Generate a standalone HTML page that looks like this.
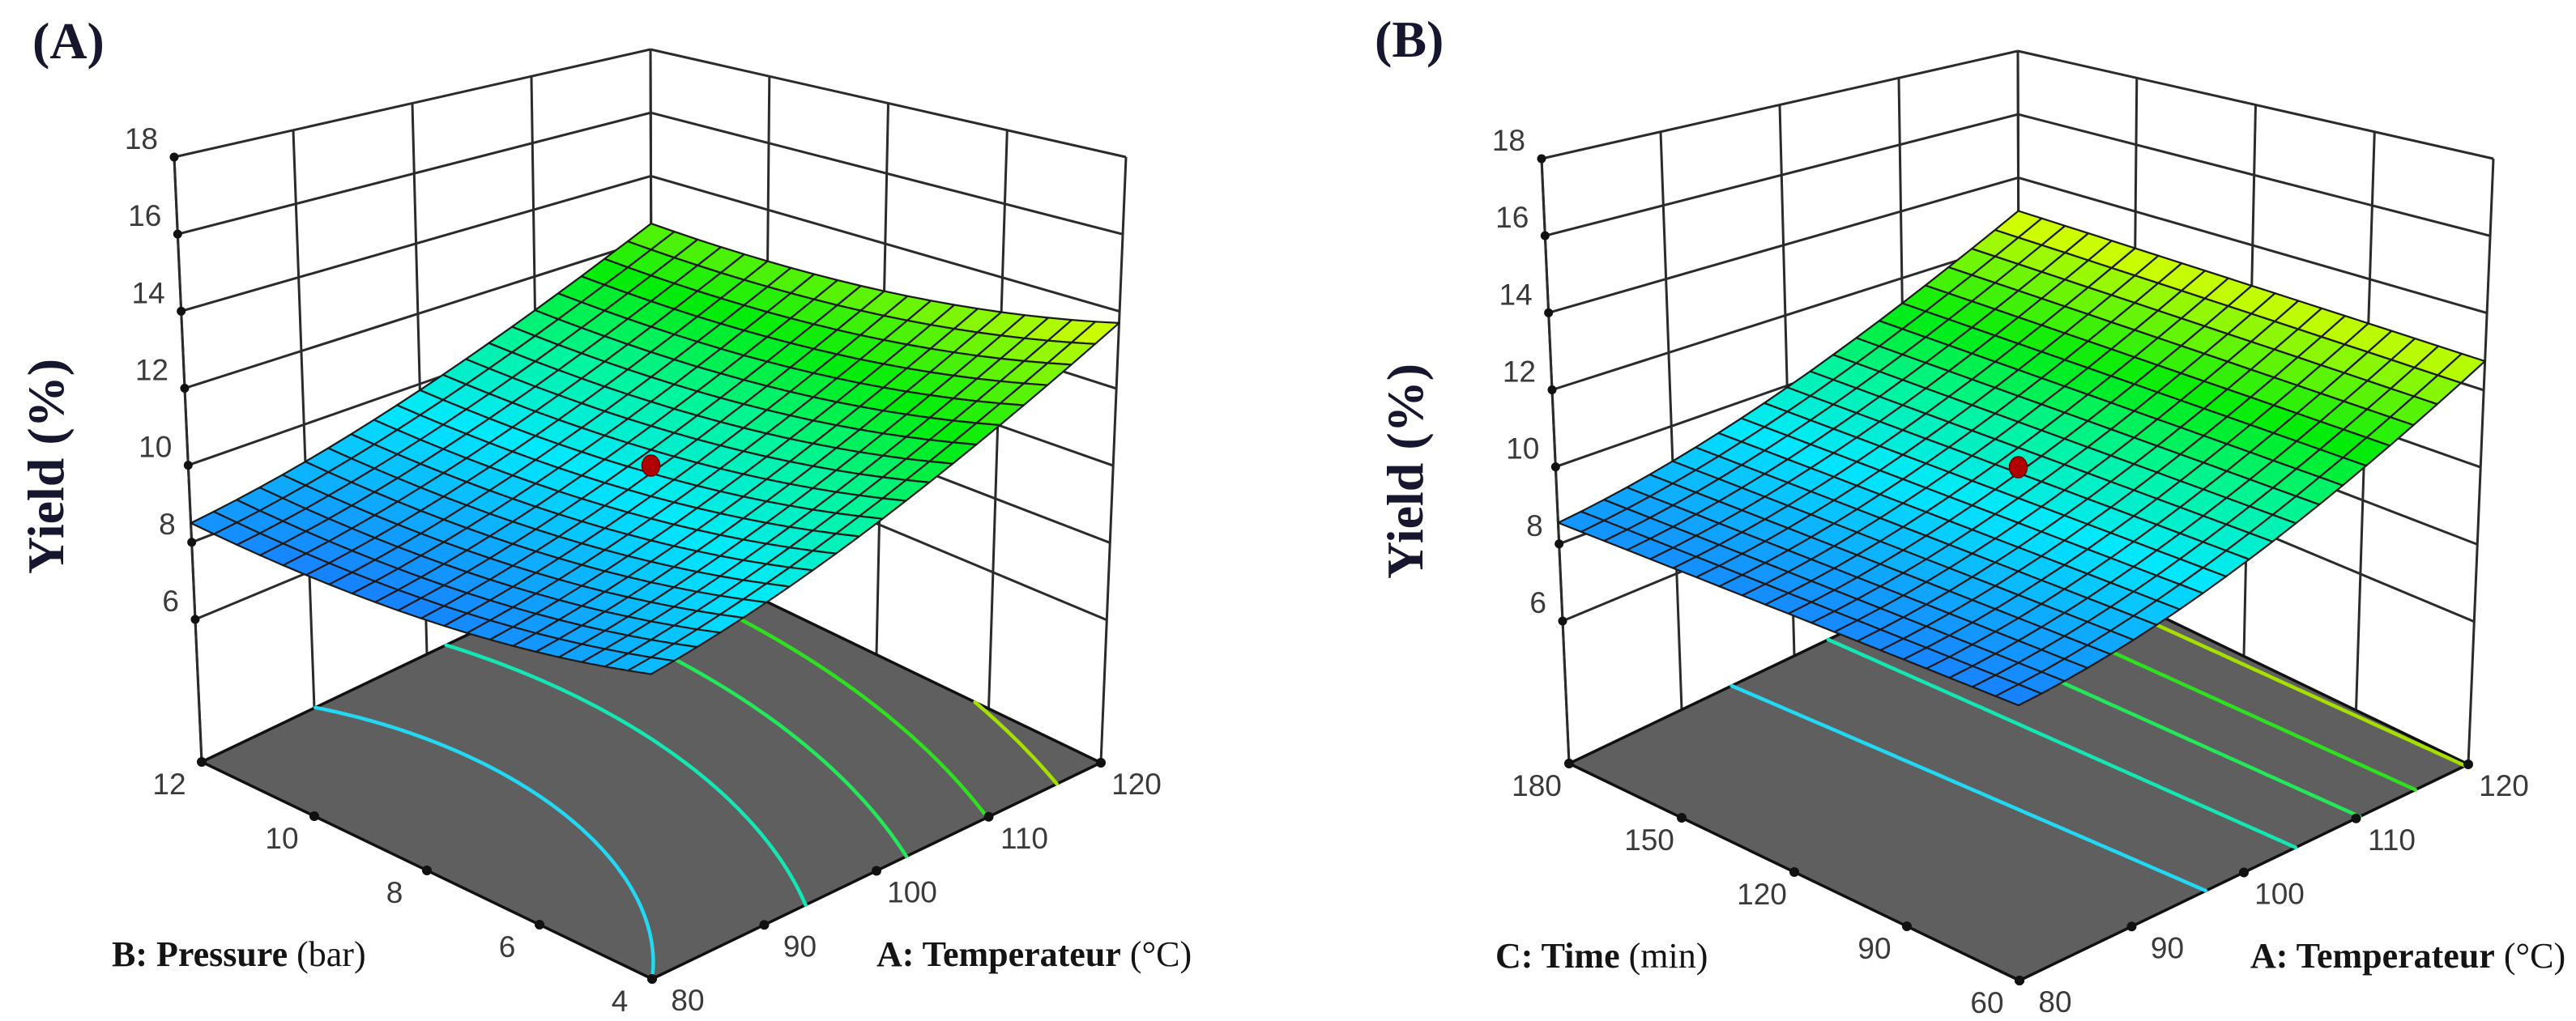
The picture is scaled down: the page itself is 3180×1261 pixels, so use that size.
<!DOCTYPE html>
<html><head><meta charset="utf-8"><style>
html,body{margin:0;padding:0;background:#fff;}
svg{display:block;}
.tick{font-family:"Liberation Sans",sans-serif;font-size:37px;fill:#3a3a3a;}
.ttl{font-family:"Liberation Serif",serif;font-size:44px;fill:#141414;}
.big{font-family:"Liberation Serif",serif;font-weight:bold;fill:#16162e;}
</style></head><body>
<svg id="fig" width="3180" height="1261" viewBox="0 0 3180 1261" xmlns="http://www.w3.org/2000/svg">
<text class="big" x="40" y="72" font-size="64">(A)</text>
<text class="big" x="1697" y="70" font-size="64">(B)</text>
<text class="big" font-size="64" transform="translate(78,576) rotate(-90)" text-anchor="middle">Yield (%)</text>
<text class="big" font-size="64" transform="translate(1756,582) rotate(-90)" text-anchor="middle">Yield (%)</text>
<text class="ttl" x="138" y="1193"><tspan font-weight="bold">B: Pressure</tspan> (bar)</text>
<text class="ttl" x="1082" y="1193"><tspan font-weight="bold">A: Temperateur</tspan> (°C)</text>
<text class="ttl" x="1846" y="1195"><tspan font-weight="bold">C: Time</tspan> (min)</text>
<text class="ttl" x="2778" y="1195"><tspan font-weight="bold">A: Temperateur</tspan> (°C)</text>
</svg>
<script>
const zTicks=[6,8,10,12,14,16,18];
const tempTicks=[80,90,100,110,120];
const pressureTicks=[4,6,8,10,12];
const timeTicks=[60,90,120,150,180];
// response-surface coefficients: [b0, a, b, ab, a^2, b^2] (coded units)
const coefA=[9.8,2.175,-0.425,-0.175,0.675,0.45];
const coefB=[9.85,2.2,0.1,0.0,0.8,0.0];
const levelsA=[9,10,11,12,13];
const levelsB=[9.4,10.3,11.1,11.9,12.7];
const contourColors=['#22d8f2','#14e6b4','#22e85a','#2ee020','#a6e000'];
const centerYield=[10.0,10.0];

const NS='http://www.w3.org/2000/svg';
const svg=document.getElementById('fig');
function mk(tag,attrs,parent){const e=document.createElementNS(NS,tag);for(const k in attrs)e.setAttribute(k,attrs[k]);(parent||svg).appendChild(e);return e;}
const zFloor=2.3,zTop=18;
function bil(c,u,v,k){return c[0][k]*(1-u)*(1-v)+c[1][k]*u*(1-v)+c[2][k]*(1-u)*v+c[3][k]*u*v;}
function makeProj(dx,dy){
  const F=[[805,1209],[1359,942],[249,941],[805,675]];
  const T=[[802,327],[1390,194],[215,194],[803,61]];
  return function(u,v,z){const w=(z-zFloor)/(zTop-zFloor);
    const fx=bil(F,u,v,0),fy=bil(F,u,v,1),tx=bil(T,u,v,0),ty=bil(T,u,v,1);
    return [fx+w*(tx-fx)+dx,fy+w*(ty-fy)+dy];};
}
const stops=[[0,[24,128,255]],[0.24,[0,232,255]],[0.42,[0,245,160]],[0.62,[0,236,10]],[1,[232,255,0]]];
function cmap(t){t=Math.max(0,Math.min(1,t));for(let i=1;i<stops.length;i++){if(t<=stops[i][0]){const a=stops[i-1],b=stops[i],f=(t-a[0])/(b[0]-a[0]);const c=a[1].map((x,k)=>Math.round(x+f*(b[1][k]-x)));return 'rgb('+c.join(',')+')';}}return 'rgb(232,255,0)';}
function line(g,p,q,w,col){return mk('line',{x1:p[0].toFixed(1),y1:p[1].toFixed(1),x2:q[0].toFixed(1),y2:q[1].toFixed(1),stroke:col||'#2b2b2b','stroke-width':w||3},g);}

function panel(id,dx,dy,coef,levels,vTicks,center){
  const P=makeProj(dx,dy);
  const model=(u,v)=>{const a=2*u-1,b=2*v-1;return coef[0]+coef[1]*a+coef[2]*b+coef[3]*a*b+coef[4]*a*a+coef[5]*b*b;};
  const uOf=t=>(t-tempTicks[0])/(tempTicks[tempTicks.length-1]-tempTicks[0]);
  const vOf=t=>(t-vTicks[0])/(vTicks[vTicks.length-1]-vTicks[0]);
  const g=mk('g',{});
  
  
  const walls=mk('g',{},g);
  
  
  tempTicks.forEach(t=>{const u=uOf(t);line(walls,P(u,1,zFloor),P(u,1,zTop));});
  vTicks.forEach(t=>{const v=vOf(t);line(walls,P(1,v,zFloor),P(1,v,zTop));});
  zTicks.forEach(z=>{line(walls,P(0,1,z),P(1,1,z));line(walls,P(1,1,z),P(1,0,z));});
  line(walls,P(0,1,zFloor),P(0,1,zTop));
  const fl=[P(0,0,zFloor),P(1,0,zFloor),P(1,1,zFloor),P(0,1,zFloor)];
  const floor=mk('polygon',{points:fl.map(p=>p.join(',')).join(' '),fill:'#5f5f5f',stroke:'#111','stroke-width':3.5},g);
  
  
  const M=90;
  levels.forEach((L,li)=>{
    let d='';
    for(let i=0;i<M;i++)for(let j=0;j<M;j++){
      const u0=i/M,u1=(i+1)/M,v0=j/M,v1=(j+1)/M;
      const c=[[u0,v0],[u1,v0],[u1,v1],[u0,v1]];const val=c.map(p=>model(p[0],p[1])-L);
      const pts=[];
      for(let k=0;k<4;k++){const k2=(k+1)%4;if((val[k]<0)!==(val[k2]<0)){const f=val[k]/(val[k]-val[k2]);pts.push([c[k][0]+f*(c[k2][0]-c[k][0]),c[k][1]+f*(c[k2][1]-c[k][1])]);}}
      for(let k=0;k+1<pts.length;k+=2){const a=P(pts[k][0],pts[k][1],zFloor),b=P(pts[k+1][0],pts[k+1][1],zFloor);d+='M'+a[0].toFixed(1)+' '+a[1].toFixed(1)+'L'+b[0].toFixed(1)+' '+b[1].toFixed(1);}
    }
    const path=mk('path',{d:d,stroke:contourColors[li],'stroke-width':4.5,fill:'none','stroke-linecap':'round'},g);
    
    
  });
  zTicks.forEach(z=>{const p=P(0,1,z);
    const dot=mk('circle',{cx:p[0],cy:p[1],r:5.5,fill:'#111'},g);
    
    
    const t=mk('text',{x:p[0]-20,y:p[1]-10,'text-anchor':'end',class:'tick'},g);t.textContent=z;
    
    });
  vTicks.forEach(tv=>{const p=P(0,vOf(tv),zFloor);
    mk('circle',{cx:p[0],cy:p[1],r:6,fill:'#111'},g);
    const t=mk('text',{x:p[0]-40,y:p[1]+40,'text-anchor':'middle',class:'tick'},g);t.textContent=tv;
    
    });
  tempTicks.forEach(tv=>{const p=P(uOf(tv),0,zFloor);
    mk('circle',{cx:p[0],cy:p[1],r:6,fill:'#111'},g);
    const t=mk('text',{x:p[0]+44,y:p[1]+39,'text-anchor':'middle',class:'tick'},g);t.textContent=tv;
    
    });
  const N=20,cells=[];let zmin=1e9,zmax=-1e9;
  for(let i=0;i<=N;i++)for(let j=0;j<=N;j++){const z=model(i/N,j/N);zmin=Math.min(zmin,z);zmax=Math.max(zmax,z);}
  for(let i=0;i<N;i++)for(let j=0;j<N;j++)cells.push([i,j]);
  cells.sort((a,b)=>(b[0]+b[1])-(a[0]+a[1]));
  const sg=mk('g',{stroke:'#1a1a1a','stroke-width':2.2,'stroke-linejoin':'round'},g);
  
  
  cells.forEach(([i,j])=>{
    const cs=[[i,j],[i+1,j],[i+1,j+1],[i,j+1]].map(q=>[q[0]/N,q[1]/N]);
    const zs=cs.map(q=>model(q[0],q[1]));const zc=(zs[0]+zs[1]+zs[2]+zs[3])/4;
    const pts=cs.map((q,k)=>P(q[0],q[1],zs[k]));
    mk('polygon',{points:pts.map(p=>p[0].toFixed(1)+','+p[1].toFixed(1)).join(' '),fill:cmap((zc-zmin)/(zmax-zmin))},sg);
  });
  const cp=P(0.5,0.5,center);
  const dot=mk('ellipse',{cx:cp[0],cy:cp[1],rx:11,ry:13,fill:'#b00000',stroke:'#6a0000','stroke-width':1.5},g);
  
  
}
panel('panel-a',0,0,coefA,levelsA,pressureTicks,centerYield[0]);
panel('panel-b',1688,2,coefB,levelsB,timeTicks,centerYield[1]);
['text.big','text.ttl'].forEach(s=>document.querySelectorAll(s).forEach(e=>svg.appendChild(e)));
</script>
</body></html>
